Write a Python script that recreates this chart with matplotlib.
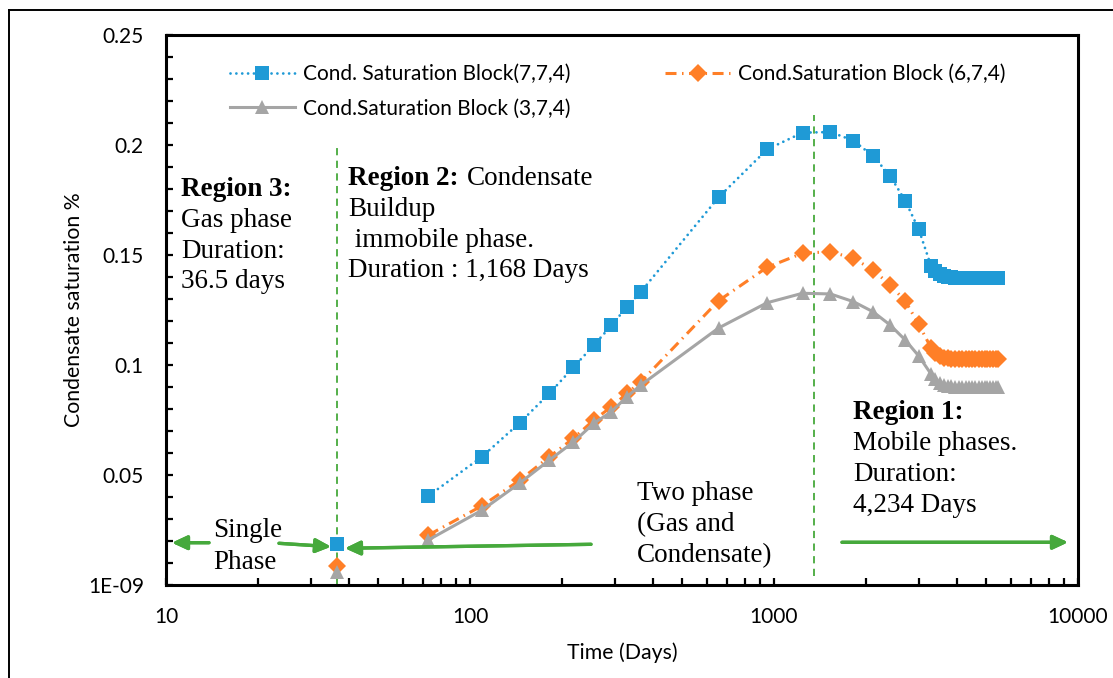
import numpy as np
import matplotlib.pyplot as plt
from matplotlib.ticker import FixedLocator, NullFormatter
from matplotlib.lines import Line2D

# DATA
t_start = [36.5]                      # first report step (single phase)
blue_start = [0.0186]
orange_start = [0.0088]
gray_start = [0.0060]

days = [73, 109.5, 146, 182.5, 219, 255.5, 292, 328.5, 365,
        657, 949, 1241, 1533, 1825, 2117, 2409, 2701, 2993,
        3285, 3394.5, 3504, 3613.5, 3723, 3832.5, 3942, 4051.5, 4161, 4270.5, 4380,
        4489.5, 4599, 4708.5, 4818, 4927.5, 5037, 5146.5, 5256, 5365.5, 5475]

blue = [0.0405, 0.0583, 0.0738, 0.0871, 0.0990, 0.1090, 0.1180, 0.1265, 0.1333,
        0.1762, 0.1980, 0.2056, 0.2059, 0.2020, 0.1950, 0.1860, 0.1747, 0.1617,
        0.1450, 0.1428, 0.1412, 0.1404, 0.1400, 0.1398, 0.1397, 0.1396, 0.1396, 0.1395, 0.1395,
        0.1395, 0.1395, 0.1395, 0.1395, 0.1395, 0.1395, 0.1395, 0.1395, 0.1395, 0.1395]
orange = [0.0227, 0.0360, 0.0477, 0.0583, 0.0667, 0.0750, 0.0810, 0.0871, 0.0924,
          0.1292, 0.1444, 0.1508, 0.1515, 0.1485, 0.1432, 0.1364, 0.1291, 0.1185,
          0.1078, 0.1055, 0.1041, 0.1034, 0.1030, 0.1029, 0.1028, 0.1027, 0.1027, 0.1027, 0.1027,
          0.1027, 0.1027, 0.1027, 0.1027, 0.1027, 0.1027, 0.1027, 0.1027, 0.1027, 0.1027]
gray = [0.0205, 0.0340, 0.0464, 0.0568, 0.0650, 0.0735, 0.0788, 0.0856, 0.0909,
        0.1168, 0.1283, 0.1326, 0.1323, 0.1288, 0.1242, 0.1182, 0.1114, 0.1041,
        0.0959, 0.0935, 0.0919, 0.0910, 0.0905, 0.0903, 0.0902, 0.0901, 0.0901, 0.0900, 0.0900,
        0.0900, 0.0900, 0.0900, 0.0900, 0.0900, 0.0900, 0.0900, 0.0900, 0.0900, 0.0900]

labels = ['Cond. Saturation Block(7,7,4)', 'Cond.Saturation Block (6,7,4)',
          'Cond.Saturation Block (3,7,4)']
yticks = [0, 0.05, 0.1, 0.15, 0.2, 0.25]
ytick_labels = ['1E-09', '0.05', '0.1', '0.15', '0.2', '0.25']
xticks = [10, 100, 1000, 10000]
xtick_labels = ['10', '100', '1000', '10000']
region_lines = [36.5, 1350]

BLUE = '#1f9ad6'
ORANGE = '#ff7f27'
GRAY = '#a5a5a5'
GREEN = '#46a93c'
SANS = ['Lato', 'DejaVu Sans']
SERIF = ['Liberation Serif', 'DejaVu Serif']

W, H = 1113, 678
fig = plt.figure(figsize=(W / 100, H / 100), dpi=100)
ax = fig.add_axes([166 / W, 1 - 585 / H, 912 / W, 550 / H])

def fp(px, py):
    # figure pixel (from top-left) -> figure fraction
    return (px / W, 1 - py / H)

# outer frame (only top and left edges fall inside the picture)
fig.add_artist(Line2D([9 / W, 9 / W], [0, 1 - 10 / H], color='black', lw=1.4, transform=fig.transFigure))
fig.add_artist(Line2D([9 / W, 1], [1 - 10 / H, 1 - 10 / H], color='black', lw=1.4, transform=fig.transFigure))

# series
MS = 10.2
l_blue, = ax.plot(days, blue, color=BLUE, lw=2.0, linestyle=(0, (0.01, 2.1)),
                  dash_capstyle='round', marker='s', ms=MS, mew=0, label=labels[0])
l_orange, = ax.plot(days, orange, color=ORANGE, lw=2.2, linestyle=(0, (3.6, 1.8, 0.5, 1.8)),
                    marker='D', ms=MS - 0.6, mew=0, label=labels[1])
l_gray, = ax.plot(days, gray, color=GRAY, lw=2.2, linestyle='-',
                  marker='^', ms=MS, mew=0, label=labels[2])
ax.plot(t_start, blue_start, color=BLUE, marker='s', ms=MS, mew=0, ls='none')
ax.plot(t_start, orange_start, color=ORANGE, marker='D', ms=MS - 0.6, mew=0, ls='none')
ax.plot(t_start, gray_start, color=GRAY, marker='^', ms=MS, mew=0, ls='none')

# region boundaries
ax.plot([region_lines[0]] * 2, [0, 0.1995], color=GREEN, lw=1.3, ls=(0, (4, 3)), zorder=1)
ax.plot([region_lines[1]] * 2, [0.004, 0.2136], color=GREEN, lw=1.3, ls=(0, (4, 3)), zorder=1)

# axes
ax.set_xscale('log')
ax.set_xlim(10, 10000)
ax.set_ylim(0, 0.25)
ax.xaxis.set_major_locator(FixedLocator(xticks))
ax.set_xticklabels(xtick_labels)
ax.xaxis.set_minor_locator(FixedLocator([m * 10 ** e for e in range(1, 4) for m in range(2, 10)]))
ax.xaxis.set_minor_formatter(NullFormatter())
ax.yaxis.set_major_locator(FixedLocator(yticks))
ax.set_yticklabels(ytick_labels)
ax.yaxis.set_minor_locator(FixedLocator(np.arange(0, 0.2501, 0.01)))
ax.tick_params(which='both', direction='in', length=5, width=1.6, top=False, right=False,
               labelsize=15, pad=16)
for lab in ax.get_xticklabels() + ax.get_yticklabels():
    lab.set_family(SANS)
for s in ax.spines.values():
    s.set_linewidth(2.2)
ax.set_xlabel('Time (Days)', fontsize=15.3, family=SANS, labelpad=11)
ax.set_ylabel('Condensate saturation %', fontsize=15.3, family=SANS, labelpad=2.5)

leg = ax.legend(handles=[l_blue, l_gray, l_orange], ncol=2, frameon=False,
                loc='upper left', bbox_to_anchor=fp(230, 64), bbox_transform=fig.transFigure,
                borderaxespad=0, borderpad=0, handlelength=3.1, handletextpad=0.4,
                columnspacing=4.55, labelspacing=0.7, prop={'family': SANS, 'size': 15})

# annotations (serif text)
TS = 19.5
def note(px, py, s, bold=False):
    fig.text(*fp(px, py), s, family=SERIF, fontsize=TS, va='baseline', ha='left',
             weight='bold' if bold else 'normal')

note(181, 195.7, 'Region 3:', bold=True)
note(181, 226.7, 'Gas phase')
note(181, 258.3, 'Duration:')
note(181, 288.3, '36.5 days')

note(348, 185, 'Region 2:', bold=True)
note(467, 185, 'Condensate')
note(348, 216, 'Buildup')
note(348, 246.7, ' immobile phase.')
note(348, 277.3, 'Duration : 1,168 Days')

note(853, 419.3, 'Region 1:', bold=True)
note(853, 450, 'Mobile phases.')
note(853, 480.7, 'Duration:')
note(853, 511.7, '4,234 Days')

note(637, 500, 'Two phase')
note(637, 530.7, '(Gas and')
note(637, 561.7, 'Condensate)')

note(213, 536.7, 'Single')
note(213, 569.3, 'Phase')

# green arrows
def arrow(x0, y0, x1, y1):
    fig.add_artist(plt.annotate('', xy=fp(x1, y1), xytext=fp(x0, y0), xycoords='figure fraction',
                                textcoords='figure fraction',
                                arrowprops=dict(arrowstyle='-|>,head_length=0.9,head_width=0.42',
                                                color=GREEN, lw=2.4, shrinkA=0, shrinkB=0)))

arrow(209, 542.7, 172, 542.7)
arrow(279, 543.3, 331, 546.7)
arrow(591, 544.3, 345, 548.3)
arrow(842, 542.3, 1068, 542.3)

fig.savefig('out.png', dpi=100)
